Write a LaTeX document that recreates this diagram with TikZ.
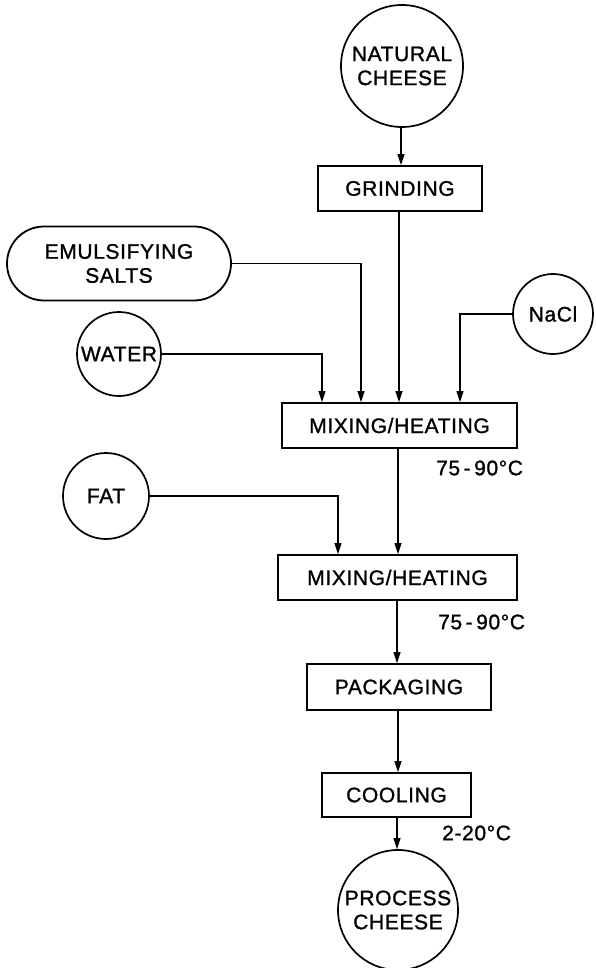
\documentclass[tikz,border=0pt]{standalone}
\usepackage{fontspec}
\setmainfont{Liberation Sans}[FakeBold=1.2, LetterSpace=3]
\usetikzlibrary{arrows.meta}
\begin{document}
\begin{tikzpicture}[x=1pt,y=-1pt,
  every node/.style={font=\fontsize{21}{24}\selectfont, inner sep=0pt, align=center},
  procbox/.style={draw, line width=1.8pt, minimum height=45pt},
  roundsrc/.style={draw, circle, line width=1.7pt},
  stadium/.style={draw, line width=1.8pt, rounded corners=37pt, minimum width=224pt, minimum height=74pt},
  templabel/.style={anchor=west},
  arr/.style={line width=1.2pt, -{Triangle[length=11pt,width=7pt]}}]
\useasboundingbox (0,0) rectangle (595,968);
% nodes
\node[roundsrc, minimum size=122pt] (nat) at (402,66) {NATURAL\\CHEESE};
\node[procbox, minimum width=164pt] (grind) at (400,188.5) {GRINDING};
\node[stadium] (emul) at (119,263.5) {EMULSIFYING\\SALTS};
\node[roundsrc, minimum size=84pt] (water) at (119,354) {WATER};
\node[roundsrc, minimum size=80pt] (nacl) at (553,314) {NaCl};
\node[procbox, minimum width=235pt] (mix1) at (399.5,425.5) {MIXING/HEATING};
\node[templabel] (t1) at (436,468) {75\,-\,90°C};
\node[roundsrc, minimum size=86pt] (fat) at (106,496) {FAT};
\node[procbox, minimum width=239pt] (mix2) at (397.5,577.5) {MIXING/HEATING};
\node[templabel] (t2) at (438,622) {75\,-\,90°C};
\node[procbox, minimum width=184pt, minimum height=46pt] (pack) at (399,687) {PACKAGING};
\node[procbox, minimum width=149pt, minimum height=44pt] (cool) at (396.5,795) {COOLING};
\node[templabel] (t3) at (442,833) {2-20°C};
\node[roundsrc, minimum size=120pt] (proc) at (398,910) {PROCESS\\CHEESE};
% connectors
\draw[arr] (nat.south -| 401,0) -- (grind.north -| 401,0);
\draw[arr] (grind.south -| 399,0) -- (mix1.north -| 399,0);
\draw[arr] (emul.east) -| (mix1.north -| 361,0);
\draw[arr] (water.east) -| (mix1.north -| 322,0);
\draw[arr] (nacl.west) -| (mix1.north -| 460,0);
\draw[arr] (mix1.south -| 398,0) -- (mix2.north -| 398,0);
\draw[arr] (fat.east) -| (mix2.north -| 338,0);
\draw[arr] (mix2.south -| 397,0) -- (pack.north -| 397,0);
\draw[arr] (pack.south -| 398,0) -- (cool.north -| 398,0);
\draw[arr] (cool.south -| 397,0) -- (proc.north -| 397,0);
\end{tikzpicture}
\end{document}
